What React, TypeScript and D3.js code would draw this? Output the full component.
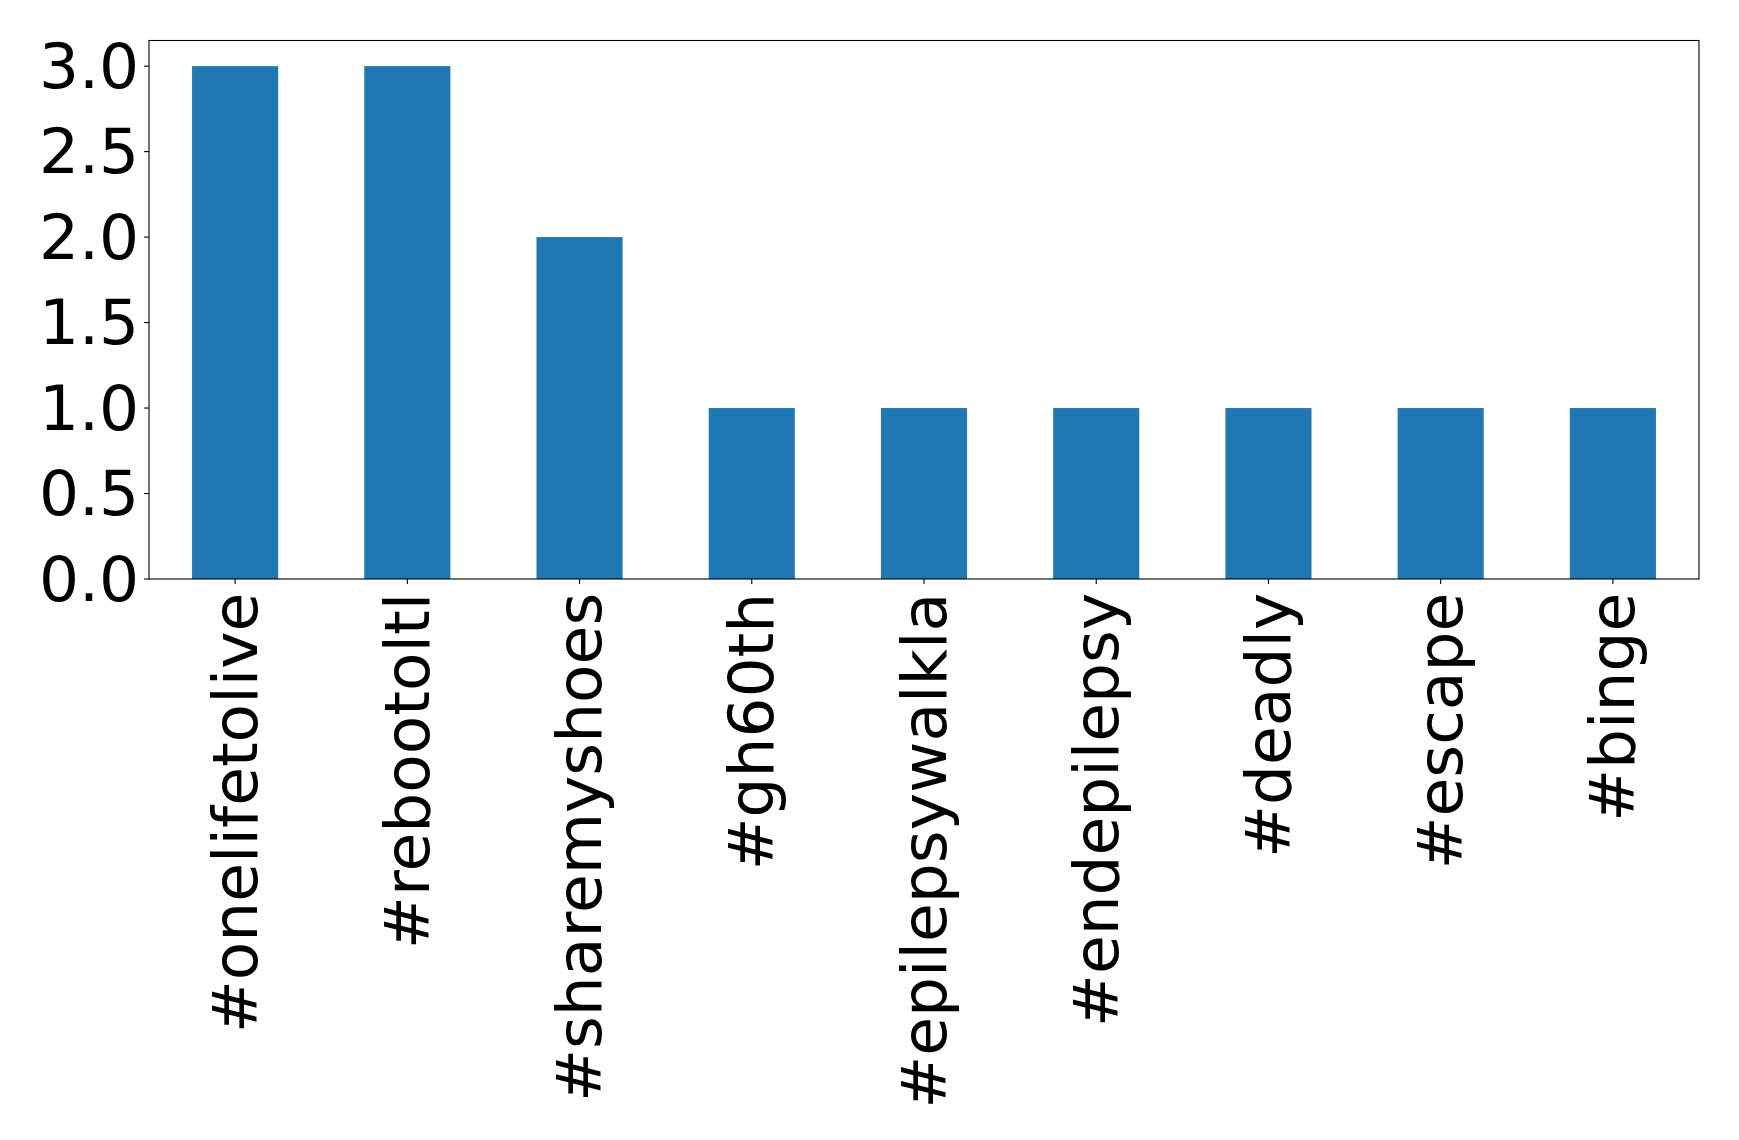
import React from "react";
import * as d3 from "d3";

const categories = [
  "#onelifetolive",
  "#rebootoltl",
  "#sharemyshoes",
  "#gh60th",
  "#epilepsywalkla",
  "#endepilepsy",
  "#deadly",
  "#escape",
  "#binge",
];
const values = [3, 3, 2, 1, 1, 1, 1, 1, 1];
const yTicks = [0, 0.5, 1.0, 1.5, 2.0, 2.5, 3.0];

const W = 1739;
const H = 1140;
const left = 149;
const right = 1699;
const top = 40.5;
const bottom = 579;
const fontSize = 63;
const font = "DejaVu Sans, sans-serif";

export default function App() {
  const n = categories.length;
  const x = d3.scaleLinear().domain([-0.5, n - 0.5]).range([left, right]);
  const y = d3.scaleLinear().domain([0, 3.15]).range([bottom, top]);
  const barW = x(0.25) - x(-0.25);
  const tickLen = 4.9;
  const pad = 4.9;

  return (
    <svg
      width={W}
      height={H}
      style={{ position: "absolute", left: 0, top: 0, background: "#fff" }}
      fontFamily={font}
    >
      <rect x={0} y={0} width={W} height={H} fill="#fff" />
      {values.map((v, i) => (
        <rect
          key={i}
          x={x(i) - barW / 2}
          y={y(v)}
          width={barW}
          height={y(0) - y(v)}
          fill="#1f77b4"
        />
      ))}
      <rect
        x={left}
        y={top}
        width={right - left}
        height={bottom - top}
        fill="none"
        stroke="#000"
        strokeWidth={1.1}
      />
      {yTicks.map((t) => (
        <g key={t}>
          <line
            x1={left - tickLen}
            x2={left}
            y1={y(t)}
            y2={y(t)}
            stroke="#000"
            strokeWidth={1.1}
          />
          <text
            x={left - tickLen - pad}
            y={y(t)}
            fontSize={fontSize}
            textAnchor="end"
            dominantBaseline="central"
            fill="#000"
          >
            {d3.format(".1f")(t)}
          </text>
        </g>
      ))}
      {categories.map((c, i) => (
        <g key={c}>
          <line
            x1={x(i)}
            x2={x(i)}
            y1={bottom}
            y2={bottom + tickLen}
            stroke="#000"
            strokeWidth={1.1}
          />
          <text
            transform={`translate(${x(i)},${bottom + tickLen + pad + 4}) rotate(-90)`}
            fontSize={fontSize}
            textAnchor="end"
            dominantBaseline="central"
            fill="#000"
          >
            {c}
          </text>
        </g>
      ))}
    </svg>
  );
}
